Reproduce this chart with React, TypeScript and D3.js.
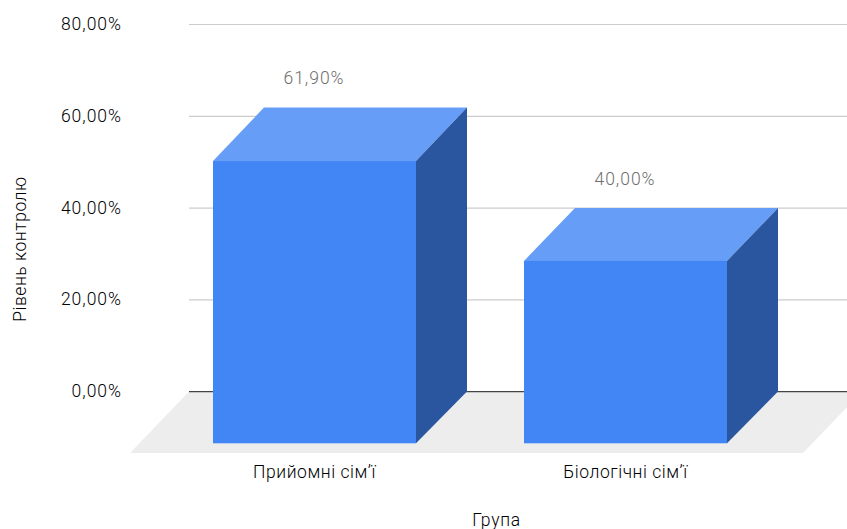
import React from "react";
import * as d3 from "d3";

const categories = ["Прийомні сім’ї", "Біологічні сім’ї"];
const seriesValues = [61.9, 40.0];
const valueLabels = ["61,90%", "40,00%"];
const tickValues = [0, 20, 40, 60, 80];
const tickLabels = ["0,00%", "20,00%", "40,00%", "60,00%", "80,00%"];

const W = 847;
const H = 529;
const font = "Roboto, Arial, sans-serif";

const backY = d3.scaleLinear().domain([0, 80]).range([391.6, 24.5]);
const frontY = d3.scaleLinear().domain([0, 80]).range([443.3, 78.5]);
const x = d3.scaleBand<string>().domain(categories).range([159, 781]).paddingInner(108 / 311).paddingOuter(54 / 311);
const dx = 51;

const poly = (pts: [number, number][]) => d3.line()(pts) + "Z";

export default function App() {
  return (
    <svg width={W} height={H} style={{ position: "absolute", left: 0, top: 0, background: "#fff" }} fontFamily={font}>
      <path d={poly([[189, 391.6], [130, 453], [803, 453], [862, 391.6]])} fill="#ededed" />
      {tickValues.map((t, i) => (
        <g key={t}>
          <line x1={189} x2={W} y1={backY(t)} y2={backY(t)} stroke={t === 0 ? "#444444" : "#cccccc"} strokeWidth={1.2} />
          <text x={122} y={backY(t) + 5.5} textAnchor="end" fontSize={17.5} fontWeight={300} letterSpacing={1} fill="#000000">{tickLabels[i]}</text>
        </g>
      ))}
      {categories.map((c, i) => {
        const x0 = x(c)!;
        const x1 = x0 + x.bandwidth();
        const v = seriesValues[i];
        const ft = frontY(v);
        const fb = frontY(0);
        const bt = backY(v);
        const bb = backY(0);
        return (
          <g key={c}>
            <path d={poly([[x0, ft], [x0 + dx, bt], [x1 + dx, bt], [x1, ft]])} fill="#669df6" />
            <path d={poly([[x1, ft], [x1 + dx, bt], [x1 + dx, bb], [x1, fb]])} fill="#2a56a0" />
            <rect x={x0} y={ft} width={x.bandwidth()} height={fb - ft} fill="#4285f4" />
            <text x={(x0 + x1) / 2 - 0.5} y={bt - 23.5} textAnchor="middle" fontSize={17.5} fontWeight={300} letterSpacing={1} fill="#6e6e6e">{valueLabels[i]}</text>
            <text x={(x0 + x1) / 2} y={478} textAnchor="middle" fontSize={17.5} fontWeight={300} letterSpacing={0.55} fill="#000000">{c}</text>
          </g>
        );
      })}
      <text x={496.5} y={526} textAnchor="middle" fontSize={17.5} fontWeight={300} letterSpacing={0.7} fill="#000000">Група</text>
      <text transform="translate(26,249) rotate(-90)" textAnchor="middle" fontSize={17.5} fontWeight={300} letterSpacing={0.55} fill="#000000">Рівень контролю</text>
    </svg>
  );
}
